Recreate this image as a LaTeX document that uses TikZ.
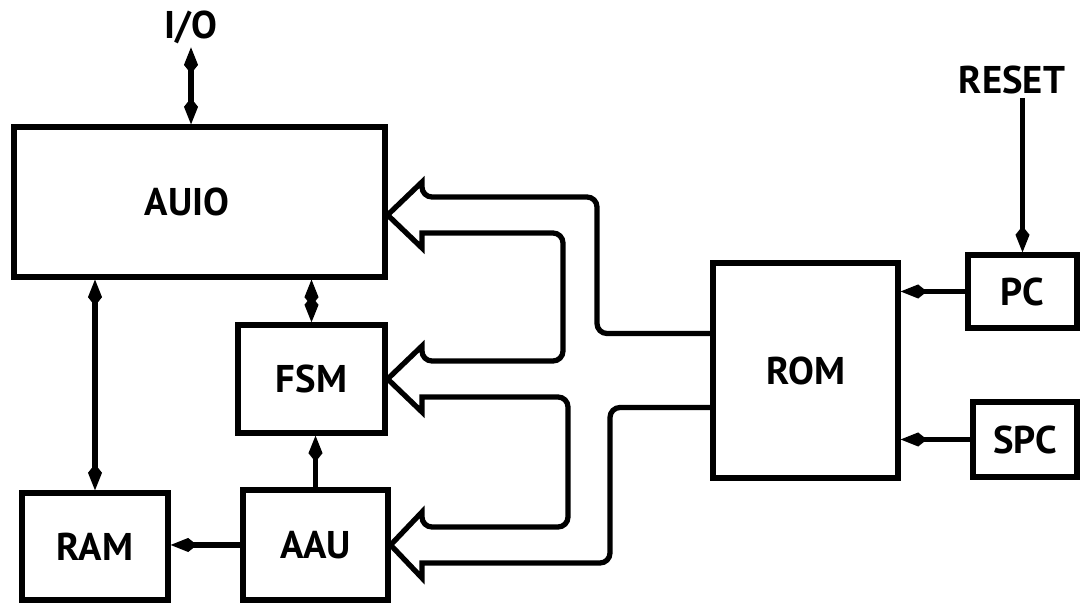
\documentclass[tikz,border=0pt]{standalone}
\usepackage{fontspec}
\setmainfont{PT Sans}
\usetikzlibrary{positioning,arrows.meta,calc}
\tikzset{
  blk/.style={draw,line width=3pt,inner sep=0pt,font=\bfseries\fontsize{22}{26}\selectfont},
  lbl/.style={font=\bfseries\fontsize{22}{26}\selectfont,inner sep=2pt},
  kt/.tip={Kite[length=15pt,width=8pt,inset=5pt]},
  sig/.style={-kt,line width=3pt},
  bisig/.style={kt-kt,line width=3pt},
  bus/.style={line width=3pt,line join=miter},
}
\begin{document}
\begin{tikzpicture}[x=0.02cm,y=-0.02cm]
  \useasboundingbox (0,0) rectangle (1080,604);
  % blocks
  \node[blk,minimum width=7.42cm,minimum height=3.0cm] (auio) at (199.5,202) {AUIO\hspace*{0.5cm}};
  \node[blk,minimum width=2.94cm,minimum height=2.16cm] (fsm) at (311.5,379) {FSM};
  \node[blk,minimum width=2.92cm,minimum height=2.14cm] (ram) at (95,546.5) {RAM};
  \node[blk,minimum width=2.9cm,minimum height=2.2cm] (aau) at (315.5,545) {AAU};
  \node[blk,minimum width=3.7cm,minimum height=4.3cm] (rom) at (805.5,370.5) {ROM};
  \node[blk,minimum width=2.18cm,minimum height=1.46cm] (pc) at (1022.5,291.5) {PC};
  \node[blk,minimum width=2.08cm,minimum height=1.5cm] (spc) at (1025,439.5) {SPC};
  % external lines
  \node[lbl] (io) at (191,27) {I/O};
  \node[lbl] (reset) at (1012,80) {RESET};
  \draw[bisig] (io.south) -- (io.south |- auio.north);
  \draw[sig] (reset.south -| pc.north) -- (pc.north);
  % control lines
  \draw[sig] (pc.west) -- (pc.west -| rom.east);
  \draw[sig] (spc.west) -- (spc.west -| rom.east);
  \draw[bisig] (fsm.north) -- (fsm.north |- auio.south);
  \draw[sig] (aau.north) -- (aau.north |- fsm.south);
  \draw[bisig] (ram.north) -- (ram.north |- auio.south);
  \draw[sig] (aau.west) -- (aau.west -| ram.east);
  % microcode bus from rom
  \coordinate (ta) at ($(auio.east)+(0,13)$);
  \coordinate (tf) at (fsm.east);
  \coordinate (tu) at (aau.east);
  \draw[bus] ($(rom.west)+(0,-37)$) [rounded corners=0.2cm] -- (597,333.5) -- (597,197)
    -- (422,197) [sharp corners] -- (422,182) -- (ta) -- (422,248) -- (422,233)
    [rounded corners=0.2cm] -- (563,233) -- (563,361)
    -- (422,361) [sharp corners] -- (422,346) -- (tf) -- (422,412) -- (422,397)
    [rounded corners=0.2cm] -- (568,397) -- (568,527)
    -- (422,527) [sharp corners] -- (422,512) -- (tu) -- (422,578) -- (422,563)
    [rounded corners=0.2cm] -- (610,563) -- (610,407.5) -- ($(rom.west)+(0,37)$);
\end{tikzpicture}
\end{document}
